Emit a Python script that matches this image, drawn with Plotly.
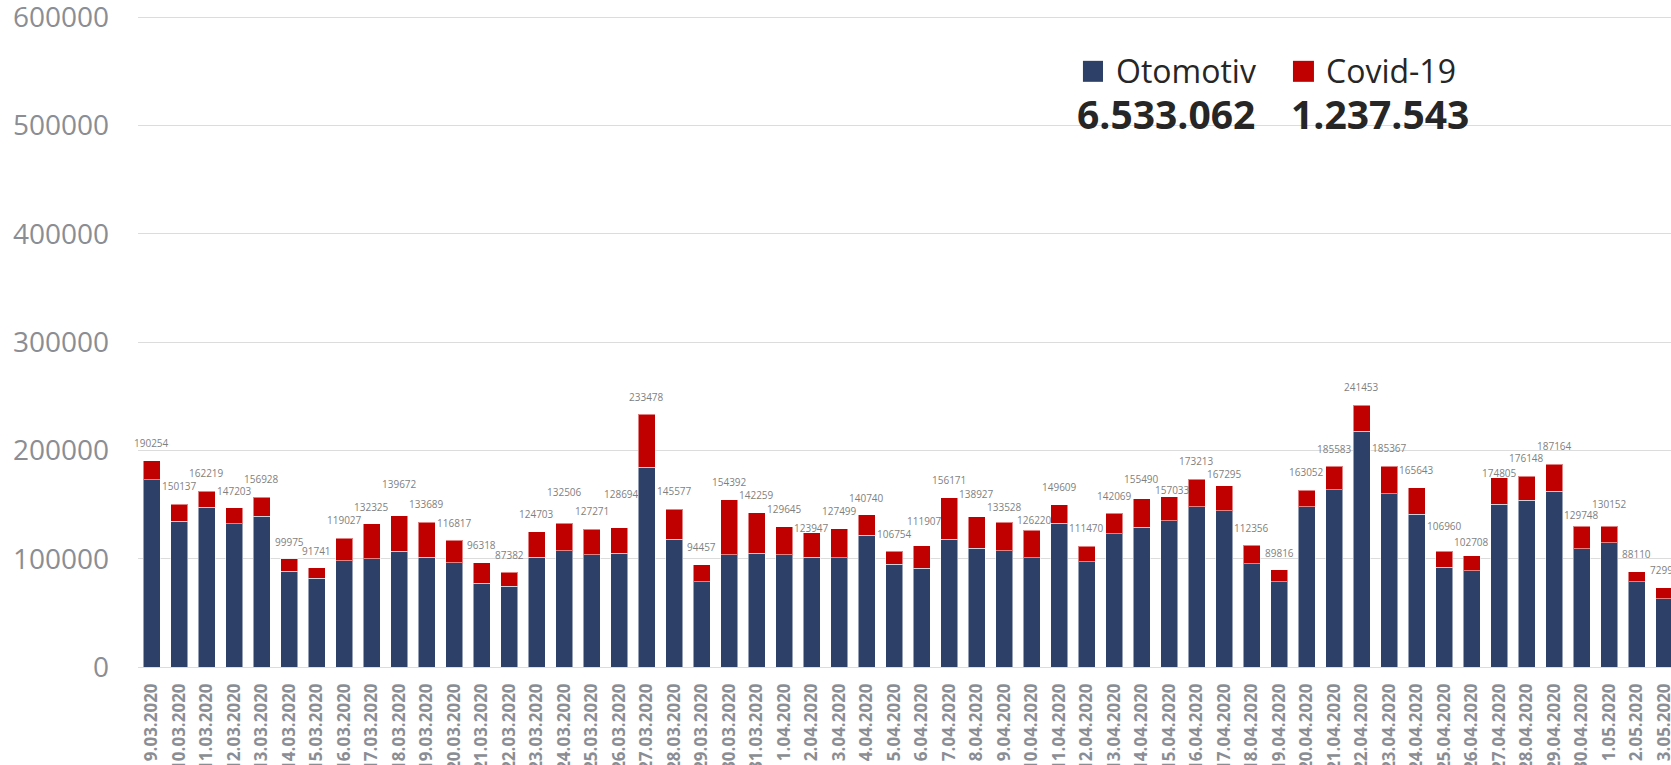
import plotly.graph_objects as go

# Daily counts, 9 March - 3 May 2020
dates = [
    "9.03.2020", "10.03.2020", "11.03.2020", "12.03.2020", "13.03.2020", "14.03.2020",
    "15.03.2020", "16.03.2020", "17.03.2020", "18.03.2020", "19.03.2020", "20.03.2020",
    "21.03.2020", "22.03.2020", "23.03.2020", "24.03.2020", "25.03.2020", "26.03.2020",
    "27.03.2020", "28.03.2020", "29.03.2020", "30.03.2020", "31.03.2020", "1.04.2020",
    "2.04.2020", "3.04.2020", "4.04.2020", "5.04.2020", "6.04.2020", "7.04.2020",
    "8.04.2020", "9.04.2020", "10.04.2020", "11.04.2020", "12.04.2020", "13.04.2020",
    "14.04.2020", "15.04.2020", "16.04.2020", "17.04.2020", "18.04.2020", "19.04.2020",
    "20.04.2020", "21.04.2020", "22.04.2020", "23.04.2020", "24.04.2020", "25.04.2020",
    "26.04.2020", "27.04.2020", "28.04.2020", "29.04.2020", "30.04.2020", "1.05.2020",
    "2.05.2020", "3.05.2020",
]

otomotiv = [
    172913, 134452, 147731, 132064, 139058, 88617, 82166, 98142, 99765, 106738,
    101556, 96051, 77254, 74461, 101549, 107163, 103752, 104957, 184658, 117856,
    78759, 103457, 105254, 103456, 101558, 100657, 121853, 94758, 91057, 118154,
    109858, 107157, 100654, 132957, 96953, 122857, 129254, 134857, 147757, 144355,
    95356, 78756, 147755, 163457, 217856, 159756, 140957, 91956, 88657, 150456,
    153857, 162456, 108956, 114756, 78556, 62856,
]

covid = [
    17341, 15685, 14488, 15139, 17870, 11358, 9575, 20885, 32560, 32934,
    32133, 20766, 19064, 12921, 23154, 25343, 23519, 23737, 48820, 27721,
    15698, 50935, 37005, 26189, 22389, 26842, 18887, 11996, 20850, 38017,
    29069, 26371, 25566, 16652, 14517, 19212, 26236, 22176, 25456, 22940,
    17000, 11060, 15297, 22126, 23597, 25611, 24686, 15004, 14051, 24349,
    22291, 24708, 20792, 15396, 9554, 10143,
]

series_names = ["Otomotiv", "Covid-19"]
series_totals = ["6.533.062", "1.237.543"]
y_ticks = [0, 100000, 200000, 300000, 400000, 500000, 600000]

# Pixel lift of each total label above its bar (label layout)
label_lift = [
    18, 18, 18, 17, 18, 17, 17, 18, 17, 32, 18, 17.5, 17.5,
    17, 17.5, 31, 18, 33.5, 17.5, 18, 17.5, 17.5, 17.5, 17.5, 5, 17.5,
    17, 17, 25, 18, 23, 15, 10, 17.5, 18, 17.5, 20, 7, 18, 12,
    17, 17, 18, 17.5, 18, 18, 17.5, 25.5, 14, 4.5, 18, 18, 11.5, 22, 17.5, 17.5,
]
label_nudge = {17: 2.5, 28: 3, 32: 3, 37: 3}

NAVY = "#2D4068"
RED = "#C00000"
GREY = "#8a8e94"
FONT = "Open Sans"

fig = go.Figure()
fig.add_trace(go.Bar(
    x=dates, y=otomotiv, name=series_names[0],
    marker=dict(color=NAVY, line=dict(color="rgba(255,255,255,0.5)", width=1)),
))
fig.add_trace(go.Bar(
    x=dates, y=covid, name=series_names[1],
    marker=dict(color=RED, line=dict(color="rgba(255,255,255,0.5)", width=1)),
))

# Total labels above each stacked bar
for i, d in enumerate(dates):
    total = otomotiv[i] + covid[i]
    fig.add_annotation(
        x=d, y=total, text=str(total), showarrow=False,
        xanchor="center", yanchor="middle",
        yshift=label_lift[i], xshift=label_nudge.get(i, 0),
        font=dict(family=FONT, size=10, color="#7f7f7f"),
    )

# Custom legend with period totals
legend_items = [
    (0.6164, 0.6295, 0.6367, 0.6706, NAVY),
    (0.7534, 0.7671, 0.7737, 0.8102, RED),
]
for (sx0, sx1, tx, nx, col), name, tot in zip(legend_items, series_names, series_totals):
    fig.add_shape(type="rect", xref="paper", yref="paper",
                  x0=sx0, x1=sx1, y0=0.8975, y1=0.9297,
                  fillcolor=col, line=dict(width=0))
    fig.add_annotation(xref="paper", yref="paper", x=tx, y=0.9145,
                       xanchor="left", yanchor="middle", showarrow=False, text=name,
                       font=dict(family=FONT, size=32, color="#262626"))
    fig.add_annotation(xref="paper", yref="paper", x=nx, y=0.8495,
                       xanchor="center", yanchor="middle", showarrow=False,
                       text="<b>" + tot + "</b>",
                       font=dict(family=FONT, size=39, color="#262626"))

fig.update_layout(
    barmode="stack",
    bargap=0.367,
    width=1671, height=765,
    margin=dict(l=138, r=0, t=15, b=98),
    paper_bgcolor="white", plot_bgcolor="white",
    showlegend=False,
    font=dict(family=FONT),
)
fig.update_xaxes(
    type="category", range=[-0.5, 55.245],
    tickangle=-90, automargin=False,
    tickfont=dict(family=FONT, size=17, color=GREY, weight="bold"),
    ticklabelstandoff=12, ticklabeloverflow="allow",
    showgrid=False, showline=False, zeroline=False,
)
fig.update_yaxes(
    range=[0, 602000], tickmode="array", tickvals=y_ticks,
    ticktext=[str(v) for v in y_ticks],
    automargin=False, ticklabeloverflow="allow",
    tickfont=dict(family=FONT, size=28, color=GREY),
    ticklabelstandoff=28,
    showgrid=True, gridcolor="#dcdcdc", gridwidth=1.3,
    zeroline=True, zerolinecolor="#dcdcdc", zerolinewidth=1.3,
    showline=False,
)

fig.write_html("out.html")
